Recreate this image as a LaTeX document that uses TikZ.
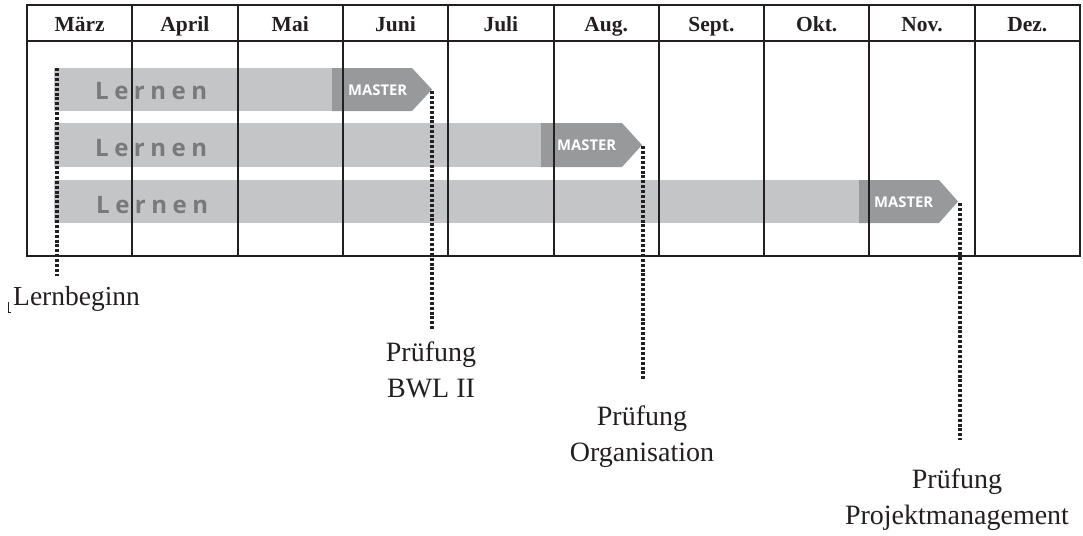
\documentclass[tikz,border=0pt]{standalone}
\usepackage{fontspec}
\setmainfont{Liberation Serif}
\newfontfamily\barfont{Open Sans}[BoldFont={* Bold}]
\definecolor{lightbar}{RGB}{196,197,199}
\definecolor{darkbar}{RGB}{152,153,155}
\definecolor{lerntext}{RGB}{120,121,123}
\definecolor{ink}{RGB}{35,31,32}
\newcommand\lsp{\hspace{5.5pt}}
\begin{document}
\begin{tikzpicture}[x=1pt,y=-1pt,
  grid/.style={draw=ink,line width=2pt},
  monthlabel/.style={anchor=base,inner sep=0pt,font=\fontsize{21.5}{24}\selectfont\bfseries,text=ink},
  lightpart/.style={fill=lightbar,draw=none},
  darkpart/.style={fill=darkbar,draw=none},
  lerntxt/.style={anchor=base west,inner sep=0pt,font=\barfont\fontsize{24}{28}\selectfont\bfseries,text=lerntext},
  mastertxt/.style={anchor=base west,inner sep=0pt,font=\barfont\fontsize{14.8}{16}\selectfont\bfseries,text=white},
  dotline/.style={draw=ink,line width=3.4pt,dash pattern=on 3pt off 1.9pt},
  examlabel/.style={anchor=north,inner sep=0pt,align=center,font=\fontsize{28}{36}\selectfont,text=ink}]
\useasboundingbox (0,0) rectangle (1083,535);
% bars
\path[lightpart] (54,68) rectangle (332,111);
\path[darkpart] (332,68) -- (412,68) -- (432,89.5) -- (412,111) -- (332,111) -- cycle;
\path[lightpart] (54,123) rectangle (541,167);
\path[darkpart] (541,123) -- (622,123) -- (642,145) -- (622,167) -- (541,167) -- cycle;
\path[lightpart] (54,180) rectangle (859,223);
\path[darkpart] (859,180) -- (939,180) -- (958,201.5) -- (939,223) -- (859,223) -- cycle;
\node[lerntxt] (l1) at (95,99) {L\lsp e\lsp r\lsp n\lsp e\lsp n};
\node[lerntxt] (l2) at (95,156.5) {L\lsp e\lsp r\lsp n\lsp e\lsp n};
\node[lerntxt] (l3) at (96,213.5) {L\lsp e\lsp r\lsp n\lsp e\lsp n};
\node[mastertxt] (m1) at (348,95) {MASTER};
\node[mastertxt] (m2) at (557,150.5) {MASTER};
\node[mastertxt] (m3) at (874,207) {MASTER};
% grid
\draw[grid] (27,5) rectangle (1080,256);
\draw[grid] (27,41) -- (1080,41);
\foreach \i in {1,...,9} {
  \draw[grid] ({27+\i*105.3},5) -- ({27+\i*105.3},256);
}
\foreach \m [count=\i from 0] in {März,April,Mai,Juni,Juli,Aug.,Sept.,Okt.,Nov.,Dez.} {
  \node[monthlabel] (mon\i) at ({27+(\i+0.5)*105.3},32) {\m};
}
% connectors
\coordinate (s0) at (57,68);
\coordinate (e0) at (57,276);
\coordinate (t1) at (432,91);
\coordinate (e1) at (432,330);
\coordinate (t2) at (643,146);
\coordinate (e2) at (643,381);
\coordinate (t3) at (960,203);
\coordinate (e3) at (960,440);
\draw[dotline] (s0) -- (e0);
\draw[dotline] (t1) -- (e1);
\draw[dotline] (t2) -- (e2);
\draw[dotline] (t3) -- (e3);
% labels
\node[anchor=base west,inner sep=0pt,font=\fontsize{27.5}{36}\selectfont,text=ink] (lb) at (13,305) {Lernbeginn};
\draw[ink,line width=0.8pt] (8,302) -- (8,312) -- (11,312);
\node[examlabel] (p1) at (431,342) {Prüfung\\BWL II};
\node[examlabel] (p2) at (642,406) {Prüfung\\Organisation};
\node[examlabel] (p3) at (957,469) {Prüfung\\Projektmanagement};
\end{tikzpicture}
\end{document}
